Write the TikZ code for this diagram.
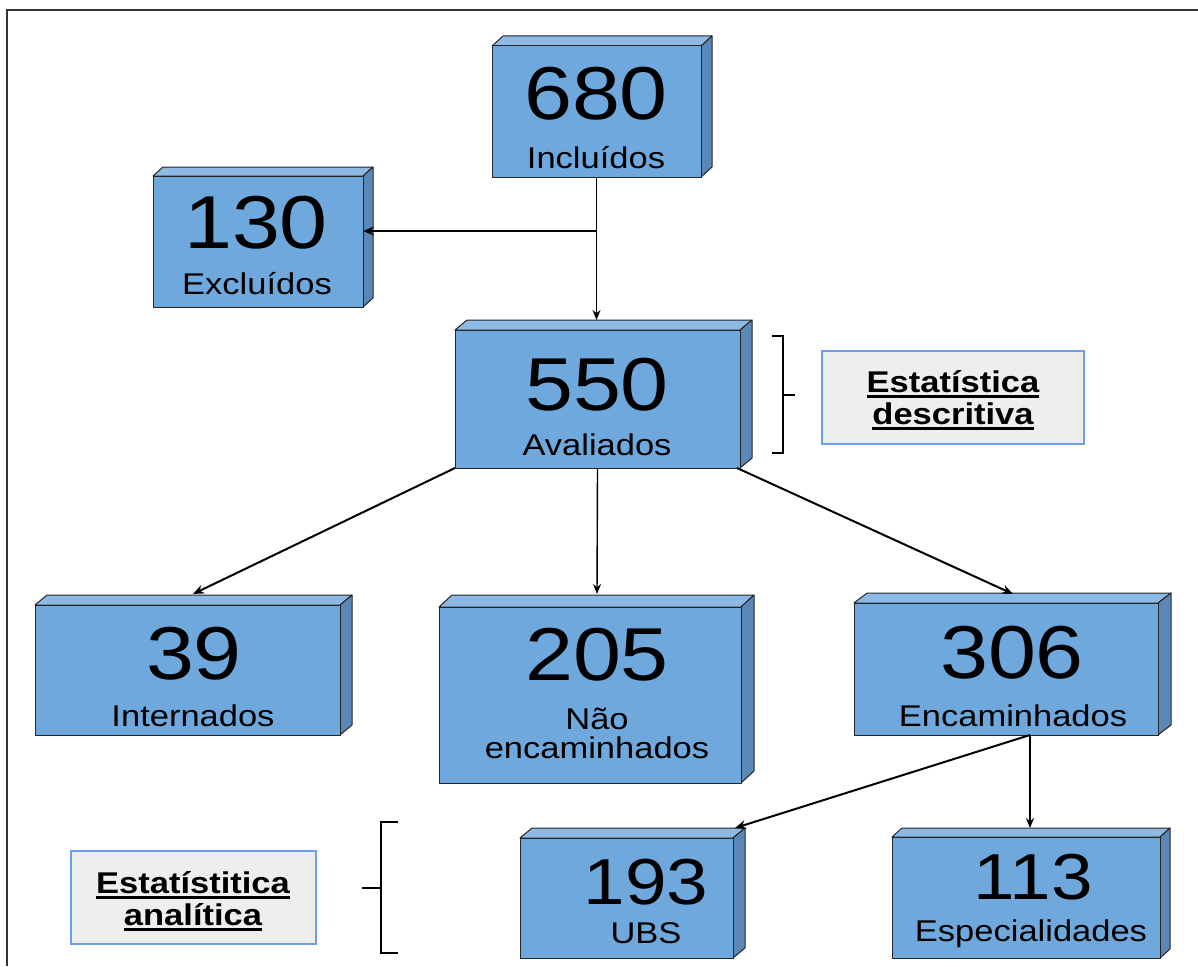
\documentclass[tikz,border=0pt]{standalone}
\usepackage{fontspec}
\setmainfont{Liberation Sans}[FakeStretch=1.15]
\usetikzlibrary{arrows.meta,calc}
\definecolor{frontc}{HTML}{6FA8DC}
\definecolor{topc}{HTML}{8DBAE5}
\definecolor{sidec}{HTML}{5A87B5}
\definecolor{edgec}{HTML}{262626}
\definecolor{notefill}{HTML}{EEEEEE}
\definecolor{notedraw}{HTML}{6D9EEB}
\newcommand{\myul}[1]{\vtop{\hbox{#1}\kern3pt\hrule height 2.3pt}}
% name, x1, y1, x2, y2, dx, dy
\newcommand{\mkbox}[7]{%
  \path[face,fill=topc] (#2,#3) -- (#2+#6,#3-#7) -- (#4+#6,#3-#7) -- (#4,#3) -- cycle;
  \path[face,fill=sidec] (#4,#3) -- (#4+#6,#3-#7) -- (#4+#6,#5-#7) -- (#4,#5) -- cycle;
  \node[front,minimum width={#4pt-#2pt},minimum height={#5pt-#3pt}] (#1) at ({(#2+#4)/2},{(#3+#5)/2}) {};
}
\tikzset{
  face/.style={draw=edgec,line width=1pt,line join=round},
  front/.style={face,fill=frontc,rectangle,inner sep=0pt,outer sep=0pt},
  num/.style={anchor=base,inner sep=0pt,font=\fontsize{75}{75}\selectfont},
  numsmall/.style={anchor=base,inner sep=0pt,font=\fontsize{65}{65}\selectfont},
  lab/.style={anchor=base,inner sep=0pt,font=\fontsize{30}{30}\selectfont},
  note/.style={draw=notedraw,fill=notefill,line width=1.2pt,rectangle,inner sep=0pt},
  notetext/.style={anchor=base,inner sep=0pt,font=\fontsize{30}{30}\selectfont\bfseries},
  arr/.style={-{Stealth[length=11pt,width=9pt]},line width=2pt},
  thinarr/.style={-{Stealth[length=10pt,width=8pt]},line width=1.4pt},
  brk/.style={line width=2pt},
  frame/.style={line width=2pt,draw=black!80},
}
\begin{document}
\begin{tikzpicture}[x=1pt,y=-1pt]
\useasboundingbox (0,0) rectangle (1198,966);
\draw[frame] (1198,10) -- (7,10) -- (7,966);

% boxes
\mkbox{n680}{492}{46}{701}{177}{11}{10}
\mkbox{n130}{153}{176}{363}{307}{10}{9}
\mkbox{n550}{455}{330}{740}{468}{12}{10}
\mkbox{n39}{35}{605}{340}{735}{12}{10}
\mkbox{n205}{439}{607}{741}{783}{13}{12}
\mkbox{n306}{854}{603}{1158}{735}{13}{10}
\mkbox{n193}{520}{838}{733}{958}{12}{10}
\mkbox{n113}{892}{837}{1160}{958}{10}{9}

% texts
\node[num] (t680n) at (596,119) {680};
\node[lab] (t680l) at (596,168) {Incluídos};
\node[num] (t130n) at (256,248) {130};
\node[lab] (t130l) at (257,294) {Excluídos};
\node[num] (t550n) at (597,410) {550};
\node[lab] (t550l) at (597,455) {Avaliados};
\node[num] (t39n) at (194,679) {39};
\node[lab] (t39l) at (193,726) {Internados};
\node[num] (t205n) at (597,680) {205};
\node[lab] (t205a) at (597,729) {Não};
\node[lab] (t205b) at (597,758) {encaminhados};
\node[num] (t306n) at (1012,678) {306};
\node[lab] (t306l) at (1013,726) {Encaminhados};
\node[numsmall] (t193n) at (646,904) {193};
\node[lab] (t193l) at (646,943) {UBS};
\node[numsmall] (t113n) at (1033,899) {113};
\node[lab] (t113l) at (1031,941) {Especialidades};

% connector points
\coordinate (j) at (596.5,231);
\coordinate (e550) at (596.5,320);
\coordinate (e39) at (193,594);
\coordinate (e205) at (597,594);
\coordinate (e306) at (1013,594);
\coordinate (s306) at (1030,735);
\coordinate (e193) at (735,828);
\coordinate (e113) at (1030,828);

% connectors
\draw[thinarr] (n680.south) -- (e550);
\draw[arr] (j) -- (j -| n130.east);
\draw[arr] (n550.south west) -- (e39);
\draw[thinarr] (n550.south) -- (e205);
\draw[arr] ($(n550.south east)+(-3,0)$) -- (e306);
\draw[arr] (s306) -- (e193);
\draw[thinarr] (s306) -- (e113);

% notes
\node[note,minimum width=262pt,minimum height=93pt] (desc) at (953,397.5) {};
\node[notetext] (desc1) at (953,392) {\myul{Estatística}};
\node[notetext] (desc2) at (953,424) {\myul{descritiva}};
\node[note,minimum width=245pt,minimum height=93pt] (anal) at (193.5,897.5) {};
\node[notetext] (anal1) at (193,893) {\myul{Estatístitica}};
\node[notetext] (anal2) at (193,925) {\myul{analítica}};

% brackets
\draw[brk] (772,336) -- (783,336) -- (783,453) -- (772,453);
\draw[brk] (783,395) -- (795,395);
\draw[brk] (398,822) -- (381,822) -- (381,953) -- (398,953);
\draw[brk] (381,888) -- (362,888);
\end{tikzpicture}
\end{document}
